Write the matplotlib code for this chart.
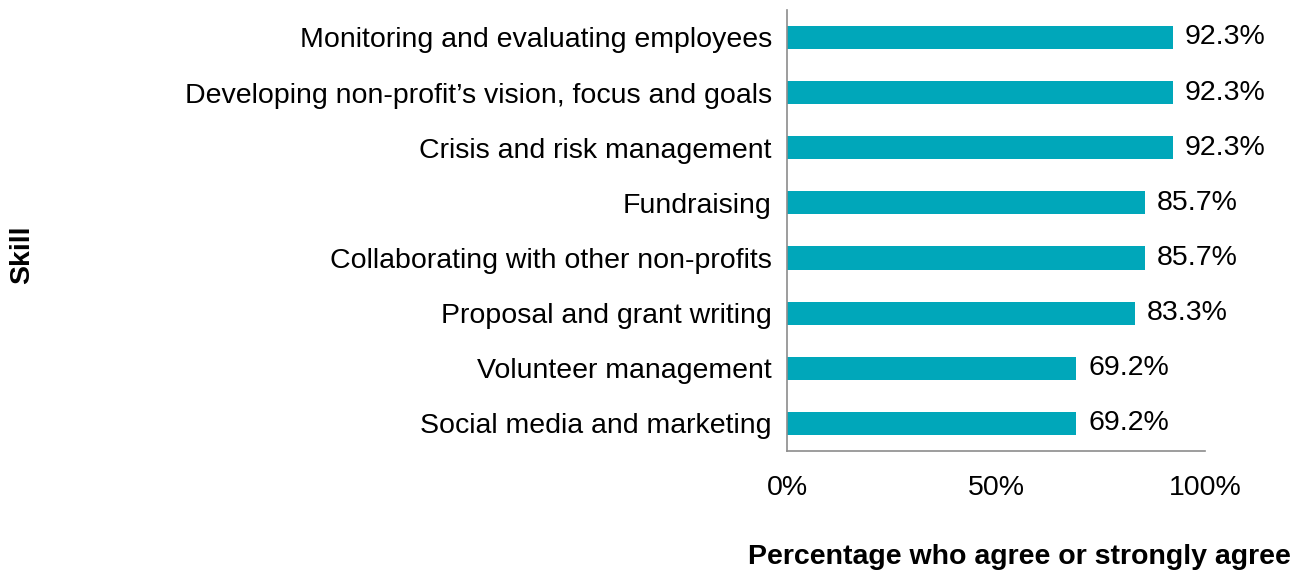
import matplotlib
matplotlib.use('Agg')
import matplotlib.pyplot as plt

skills = ['Monitoring and evaluating employees',
          'Developing non-profit\u2019s vision, focus and goals',
          'Crisis and risk management',
          'Fundraising',
          'Collaborating with other non-profits',
          'Proposal and grant writing',
          'Volunteer management',
          'Social media and marketing']
agree_pct = [92.3, 92.3, 92.3, 85.7, 85.7, 83.3, 69.2, 69.2]
x_ticks = [0, 50, 100]

plt.rcParams['font.family'] = ['Liberation Sans', 'DejaVu Sans']
fs = 20.5

fig = plt.figure(figsize=(12.99, 5.76), dpi=100)
ax = fig.add_axes([0.6059, 0.217, 0.3218, 0.766])

pos = list(range(len(skills)))
ax.barh(pos, agree_pct, height=0.42, color='#00A7BA')
ax.set_ylim(len(skills) - 0.5, -0.5)
ax.set_xlim(0, 100)

for p, v in zip(pos, agree_pct):
    ax.text(v + 2.8, p, f'{v:.1f}%', va='center', ha='left', fontsize=fs)

ax.set_yticks(pos)
ax.set_yticklabels(skills, fontsize=fs)
ax.set_xticks(x_ticks)
ax.set_xticklabels([f'{t}%' for t in x_ticks], fontsize=fs)
ax.tick_params(axis='both', length=0)
ax.tick_params(axis='y', pad=11)
ax.tick_params(axis='x', pad=17)

for s in ['top', 'right']:
    ax.spines[s].set_visible(False)
for s in ['left', 'bottom']:
    ax.spines[s].set_color('#8c8c8c')
    ax.spines[s].set_linewidth(1.2)

fig.text(0.017, 0.557, 'Skill', rotation=90, ha='center', va='center',
         fontsize=fs, fontweight='bold')
fig.text(0.785, 0.033, 'Percentage who agree or strongly agree',
         ha='center', va='center', fontsize=fs, fontweight='bold')

fig.savefig('out.png', dpi=100)
